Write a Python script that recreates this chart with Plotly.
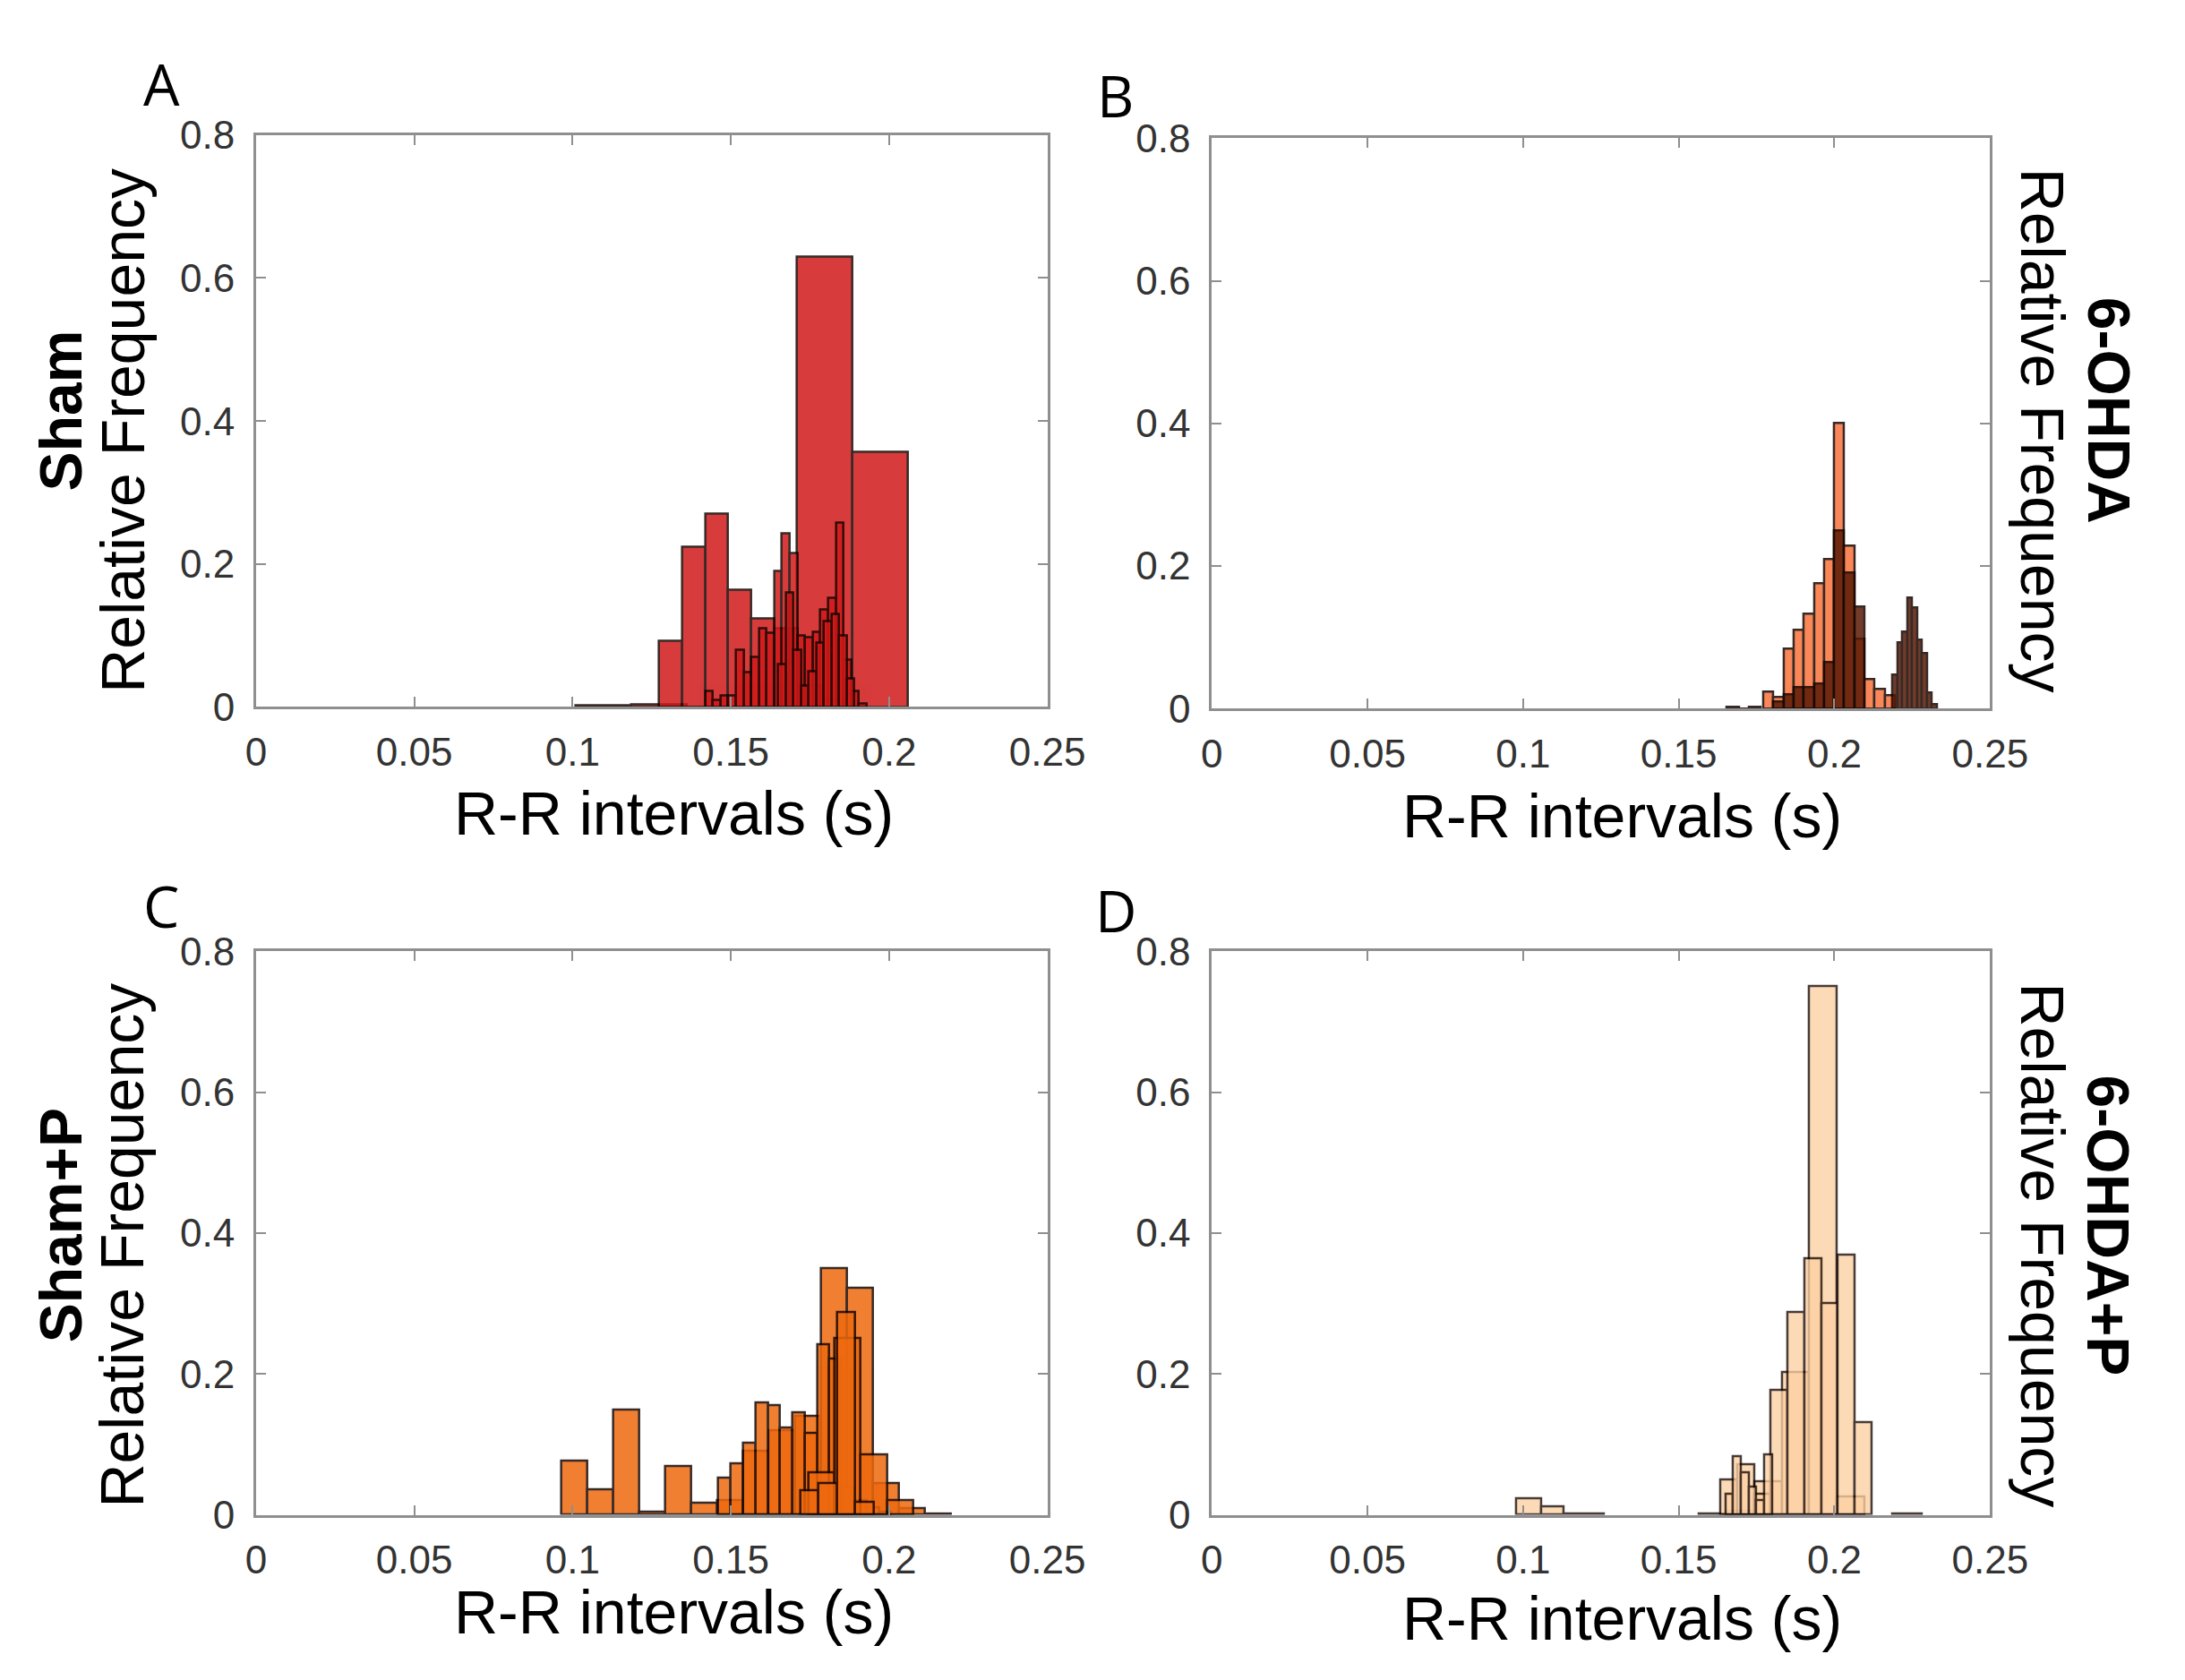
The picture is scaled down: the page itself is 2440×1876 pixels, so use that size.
import plotly.graph_objects as go

# ---- data: bin edges (s) and relative frequencies ----
# panel A, Sham
A_wide_edges = [0.101, 0.1185, 0.136, 0.1535, 0.171, 0.1885, 0.206]
A_wide_freq = [0.002, 0.003, 0.0, 0.0, 0.63, 0.356]
A_mid_edges = [0.1273, 0.1346, 0.1419, 0.1492, 0.1565, 0.1638, 0.1711, 0.1784, 0.1857]
A_mid_freq = [0.092, 0.224, 0.270, 0.163, 0.123, 0.110, 0.030, 0.010]
A_fine_edges = [0.1419, 0.1443, 0.1468, 0.1492, 0.1516, 0.1541, 0.1565, 0.1589, 0.1613, 0.1638, 0.1662,
                0.1686, 0.1711, 0.1735, 0.1759, 0.1783, 0.1808, 0.1832, 0.1856, 0.1881, 0.1905, 0.1929]
A_fine_freq = [0.022, 0.009, 0.016, 0.016, 0.079, 0.048, 0.070, 0.110, 0.103, 0.190, 0.242,
               0.215, 0.100, 0.097, 0.105, 0.136, 0.152, 0.257, 0.066, 0.022, 0.005]
A_fine2_edges = [0.1650, 0.1674, 0.1698, 0.1722, 0.1746, 0.1770, 0.1794, 0.1818, 0.1842, 0.1866, 0.1890]
A_fine2_freq = [0.060, 0.160, 0.080, 0.030, 0.050, 0.090, 0.120, 0.130, 0.100, 0.040]

# panel B, 6-OHDA
B_light_edges = [0.1772, 0.1805, 0.1837, 0.1870, 0.1902, 0.1935, 0.1967, 0.2000, 0.2032, 0.2065,
                 0.2097, 0.2130, 0.2162, 0.2195]
B_light_freq = [0.024, 0.016, 0.084, 0.110, 0.133, 0.175, 0.210, 0.400, 0.228, 0.098, 0.041, 0.027, 0.018]
B_dark1_edges = [0.1805, 0.1837, 0.1870, 0.1902, 0.1935, 0.1967, 0.2000, 0.2032, 0.2065, 0.2097]
B_dark1_freq = [0.010, 0.020, 0.030, 0.030, 0.035, 0.065, 0.250, 0.190, 0.143]
B_dark2_edges = [0.2186, 0.2202, 0.2218, 0.2234, 0.2250, 0.2266, 0.2282, 0.2298, 0.2314, 0.2330]
B_dark2_freq = [0.047, 0.092, 0.108, 0.155, 0.141, 0.096, 0.078, 0.022, 0.006]
B_tail_edges = [0.1655, 0.1695, 0.1725, 0.1762]
B_tail_freq = [0.002, 0.0, 0.002]

# panel C, Sham+P
C_wide_edges = [0.0966, 0.1048, 0.1130, 0.1212, 0.1294, 0.1376, 0.1458, 0.1540, 0.1622, 0.1704,
                0.1786, 0.1868, 0.1950, 0.2032, 0.2114, 0.2196]
C_wide_freq = [0.077, 0.036, 0.149, 0.004, 0.069, 0.017, 0.020, 0.090, 0.120, 0.140,
               0.350, 0.322, 0.045, 0.009, 0.002]
C_mid_edges = [0.1461, 0.1500, 0.1539, 0.1578, 0.1617, 0.1656, 0.1695, 0.1734, 0.1773, 0.1812,
               0.1851, 0.1890, 0.1929, 0.1968, 0.2007]
C_mid_freq = [0.052, 0.073, 0.102, 0.159, 0.155, 0.123, 0.145, 0.116, 0.242, 0.221, 0.040, 0.020, 0.010, 0.004]
C_third_edges = [0.1745, 0.1828, 0.1911, 0.1994, 0.2077]
C_third_freq = [0.060, 0.251, 0.085, 0.021]
C_fourth_edges = [0.1720, 0.1778, 0.1836, 0.1894, 0.1952]
C_fourth_freq = [0.035, 0.045, 0.287, 0.018]

# panel D, 6-OHDA+P
D_low_edges = [0.0978, 0.1058, 0.1130, 0.1260]
D_low_freq = [0.023, 0.012, 0.002]
D_wide_edges = [0.1564, 0.1653, 0.1742, 0.1831, 0.1920, 0.2009, 0.2098]
D_wide_freq = [0.002, 0.005, 0.047, 0.203, 0.750, 0.026]
D_mid_edges = [0.1634, 0.1688, 0.1742, 0.1796, 0.1850, 0.1904, 0.1958, 0.2012, 0.2066, 0.2120]
D_mid_freq = [0.050, 0.072, 0.030, 0.177, 0.287, 0.364, 0.300, 0.369, 0.131]
D_fine_edges = [0.1650, 0.1675, 0.1700, 0.1725, 0.1750, 0.1775, 0.1800]
D_fine_freq = [0.030, 0.083, 0.060, 0.040, 0.020, 0.086]
D_tail_edges = [0.2186, 0.2280]
D_tail_freq = [0.002]

x_ticks = [0, 0.05, 0.1, 0.15, 0.2, 0.25]
x_tick_text = ["0", "0.05", "0.1", "0.15", "0.2", "0.25"]
y_ticks = [0, 0.2, 0.4, 0.6, 0.8]
y_tick_text = ["0", "0.2", "0.4", "0.6", "0.8"]

panel_letters = ["A", "B", "C", "D"]
group_names = ["Sham", "6-OHDA", "Sham+P", "6-OHDA+P"]

RED = "rgb(210,25,25)"
CORAL = "rgb(250,115,60)"
BROWN = "rgb(90,25,5)"
ORANGE = "rgb(238,105,15)"
PEACH = "rgb(253,208,162)"

panels = [
    [(A_wide_edges, A_wide_freq, RED), (A_mid_edges, A_mid_freq, RED),
     (A_fine_edges, A_fine_freq, RED), (A_fine2_edges, A_fine2_freq, RED)],
    [(B_tail_edges, B_tail_freq, BROWN), (B_light_edges, B_light_freq, CORAL),
     (B_dark1_edges, B_dark1_freq, BROWN), (B_dark2_edges, B_dark2_freq, BROWN)],
    [(C_wide_edges, C_wide_freq, ORANGE), (C_mid_edges, C_mid_freq, ORANGE),
     (C_third_edges, C_third_freq, ORANGE), (C_fourth_edges, C_fourth_freq, ORANGE)],
    [(D_low_edges, D_low_freq, PEACH), (D_tail_edges, D_tail_freq, PEACH),
     (D_wide_edges, D_wide_freq, PEACH), (D_mid_edges, D_mid_freq, PEACH),
     (D_fine_edges, D_fine_freq, PEACH)],
]

x_domains = [[0.1115, 0.482], [0.559, 0.9234], [0.1115, 0.482], [0.559, 0.9234]]
y_domains = [[0.586, 0.9355], [0.585, 0.9335], [0.0922, 0.4366], [0.0922, 0.4366]]

fig = go.Figure()

for i, series in enumerate(panels):
    xa = "x" if i == 0 else "x%d" % (i + 1)
    ya = "y" if i == 0 else "y%d" % (i + 1)
    for edges, freq, col in series:
        centers = [(edges[k] + edges[k + 1]) / 2 for k in range(len(freq))]
        widths = [edges[k + 1] - edges[k] for k in range(len(freq))]
        fig.add_trace(go.Bar(x=centers, y=freq, width=widths, xaxis=xa, yaxis=ya,
                             marker=dict(color=col, line=dict(color="rgb(20,5,0)", width=2.5)),
                             opacity=0.85 if col != PEACH else 0.78, showlegend=False))

axis_style = dict(showgrid=False, zeroline=False, showline=True, linecolor="#8f8f8f", linewidth=3,
                  mirror="ticks", ticks="inside", ticklen=11, tickwidth=2, tickcolor="#8f8f8f",
                  tickfont=dict(family="Liberation Sans Narrow, Arial Narrow, Liberation Sans, Arial",
                                size=44, color="#333333"))

layout = dict(width=2440, height=1876, margin=dict(l=0, r=0, t=0, b=0),
              paper_bgcolor="white", plot_bgcolor="white", barmode="overlay", bargap=0)
for i in range(4):
    xn = "xaxis" if i == 0 else "xaxis%d" % (i + 1)
    yn = "yaxis" if i == 0 else "yaxis%d" % (i + 1)
    layout[xn] = dict(axis_style, domain=x_domains[i], range=[0, 0.25], tickvals=x_ticks,
                      ticktext=x_tick_text, anchor="y" if i == 0 else "y%d" % (i + 1),
                      ticklabelstandoff=10)
    layout[yn] = dict(axis_style, domain=y_domains[i], range=[0, 0.8], tickvals=y_ticks,
                      ticktext=y_tick_text, anchor="x" if i == 0 else "x%d" % (i + 1),
                      ticklabelstandoff=12)
fig.update_layout(**layout)

label_font = dict(family="Liberation Sans, Arial", size=68, color="black")
bold_font = dict(family="Liberation Sans, Arial", size=66, color="black")
letter_font = dict(family="Open Sans, Noto Sans", size=64, color="black")

annots = []
letter_pos = [(0.0672, 0.967), (0.514, 0.9595), (0.0672, 0.4643), (0.514, 0.4616)]
for i in range(4):
    lx, ly = letter_pos[i]
    annots.append(dict(text=panel_letters[i], x=lx, y=ly, font=letter_font))

# x titles
xt_pos = [(0.307, 0.5208), (0.751, 0.5197), (0.307, 0.033), (0.751, 0.029)]
for lx, ly in xt_pos:
    annots.append(dict(text="R-R intervals (s)", x=lx, y=ly, font=label_font))

# left side labels (A, C)
for i, yc in [(0, 0.755), (2, 0.257)]:
    annots.append(dict(text="Relative Frequency", x=0.0487, y=yc, textangle=-90, font=label_font))
    annots.append(dict(text="<b>%s</b>" % group_names[i], x=0.020, y=yc + 0.012, textangle=-90,
                       font=bold_font))
# right side labels (B, D)
for i, yc in [(1, 0.755), (3, 0.257)]:
    annots.append(dict(text="Relative Frequency", x=0.948, y=yc, textangle=90, font=label_font))
    annots.append(dict(text="<b>%s</b>" % group_names[i], x=0.979, y=yc + 0.012, textangle=90,
                       font=bold_font))

for a in annots:
    a.update(xref="paper", yref="paper", showarrow=False, xanchor="center", yanchor="middle")
fig.update_layout(annotations=annots)

fig.write_html("out.html")
